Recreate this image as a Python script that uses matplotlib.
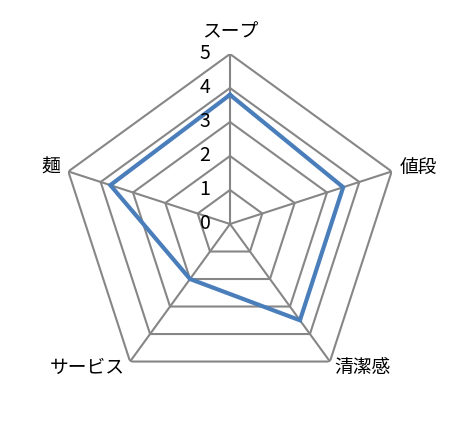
import matplotlib
matplotlib.use("Agg")
import matplotlib.pyplot as plt
import numpy as np

categories = ["スープ", "値段", "清潔感", "サービス", "麺"]
scores = [3.8, 3.5, 3.5, 2.0, 3.7]
levels = [1, 2, 3, 4, 5]
tick_labels = ["0", "1", "2", "3", "4", "5"]

plt.rcParams["font.family"] = ["Noto Sans CJK JP", "DejaVu Sans"]

W, H = 469, 434
fig = plt.figure(figsize=(W / 100, H / 100), dpi=100)
# centre at (230, 224) px from top-left, radius 170 px
ax = fig.add_axes([60 / W, 40 / H, 340 / W, 340 / H], projection="polar")
ax.set_theta_offset(np.pi / 2)
ax.set_theta_direction(-1)

n = len(categories)
angles = np.linspace(0, 2 * np.pi, n, endpoint=False)
closed = np.append(angles, angles[0])

grid_color = "#868686"
for lv in levels:
    ax.plot(closed, [lv] * (n + 1), color=grid_color, lw=1.5, zorder=1,
            solid_joinstyle="miter")
for a in angles:
    ax.plot([a, a], [0, levels[-1]], color=grid_color, lw=1.5, zorder=1)

ax.plot(closed, scores + scores[:1], color="#4A7EBB", lw=3.0, zorder=3,
        solid_joinstyle="miter")

ax.set_ylim(0, levels[-1])
ax.grid(False)
ax.spines["polar"].set_visible(False)
ax.set_xticks([])
ax.set_yticks([])
ax.patch.set_visible(False)

# value labels left of the top spoke
for i, t in enumerate(tick_labels):
    ax.annotate(t, xy=(0, i), xytext=(-18, 0), textcoords="offset points",
                ha="center", va="center", fontsize=14, annotation_clip=False)

# category labels (offsets in points)
label_pos = [
    ("center", (0, 16.2)),
    ("left", (5.8, 2.7)),
    ("left", (2.9, -4.0)),
    ("right", (-3.6, -4.3)),
    ("right", (-5.8, 2.9)),
]
for a, name, (ha, off) in zip(angles, categories, label_pos):
    ax.annotate(name, xy=(a, levels[-1]), xytext=off, textcoords="offset points",
                ha=ha, va="center", fontsize=13.5, annotation_clip=False)

fig.savefig("out.png", dpi=100)
